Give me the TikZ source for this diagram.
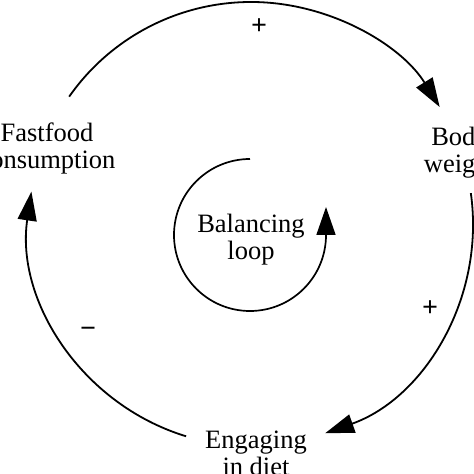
\documentclass[tikz,border=0pt]{standalone}
\usepackage{fontspec}
\setmainfont{Liberation Serif}
\usetikzlibrary{arrows.meta,calc}
\begin{document}
\begin{tikzpicture}[x=1pt,y=1pt,
  lbl/.style={inner sep=0pt, anchor=base, font=\fontsize{26.5}{27}\selectfont},
  sgn/.style={inner sep=0pt, anchor=base, font=\fontsize{28}{28}\selectfont\bfseries},
  link/.style={line width=1.8pt, -{Triangle[length=29pt,width=19pt]}},
  loopline/.style={line width=1.7pt, -{Triangle[length=28pt,width=19pt]}}]
\useasboundingbox (0,0) rectangle (474,474);
\fill[white] (0,0) rectangle (474,474);
\coordinate (c) at (251,250);
\coordinate (ci) at (250,239);
% labels
\node[lbl] (ff) at (47,332) {\begin{tabular}[t]{@{}c@{}}Fastfood\\consumption\end{tabular}};
\node[lbl] (bw) at (460,328) {\begin{tabular}[t]{@{}c@{}}Body\\weight\end{tabular}};
\node[lbl] (ed) at (256,25) {\begin{tabular}[t]{@{}c@{}}Engaging\\in diet\end{tabular}};
\node[lbl] (bl) at (251,241) {\begin{tabular}[t]{@{}c@{}}Balancing\\loop\end{tabular}};
% signs
\node[sgn] (s1) at (259,439) {+};
\node[sgn] (s2) at (430,157) {+};
\node[sgn] (s3) at (88,136) {−};
% outer loop arcs
\draw[link] ($(c)+(145:222)$) arc[start angle=145,end angle=31.8,radius=222];
\draw[link] ($(c)+(8:222)$) arc[start angle=8,end angle=-70.5,radius=222];
\draw[link] ($(c)+(253:222)$) arc[start angle=253,end angle=171.6,radius=222];
% inner balancing loop
\draw[loopline] ($(ci)+(90:76)$) arc[start angle=90,end angle=360,radius=76] coordinate (ie) -- ++(0,28);
\end{tikzpicture}
\end{document}
